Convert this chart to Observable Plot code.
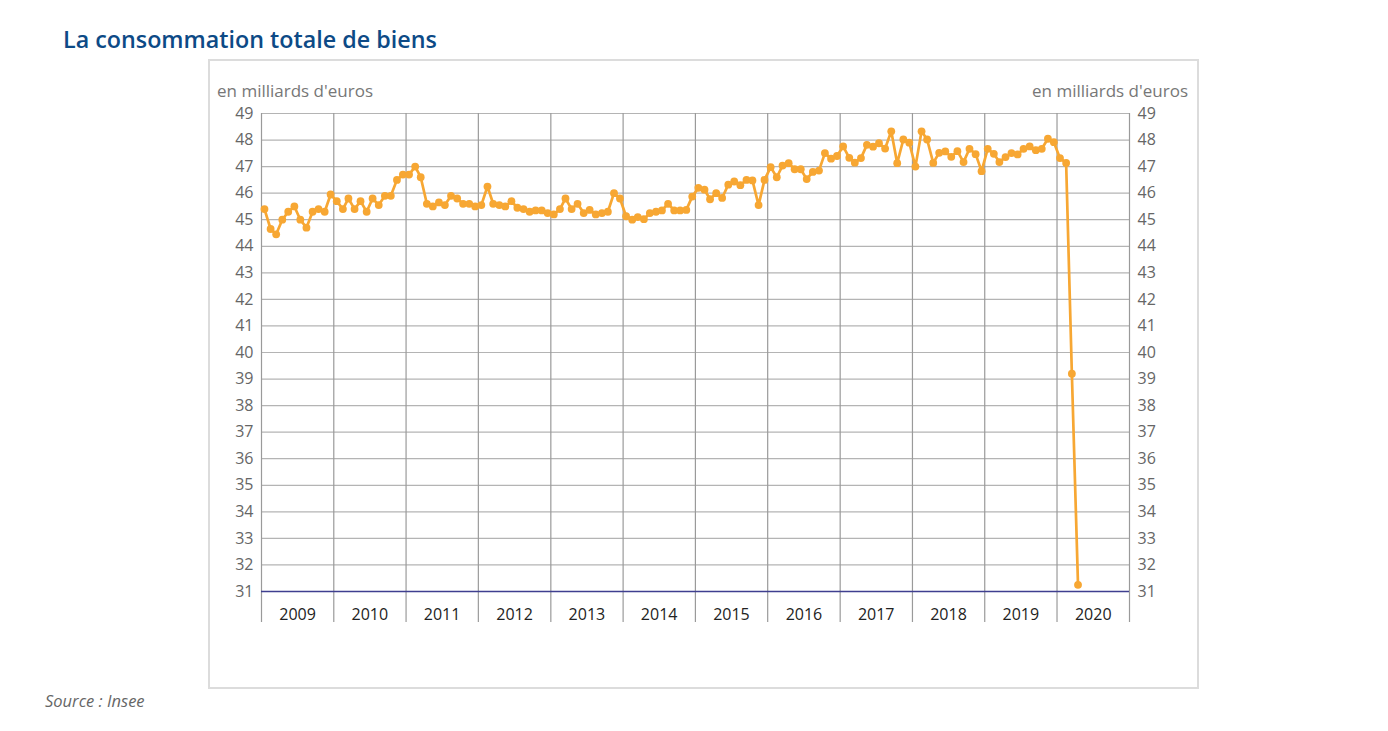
<!DOCTYPE html>
<html>
<head>
<meta charset="utf-8">
<script src="https://cdn.jsdelivr.net/npm/d3@7"></script>
<script src="https://cdn.jsdelivr.net/npm/@observablehq/plot@0.6"></script>
<style>
  html, body { margin: 0; padding: 0; background: #fff; }
  #page { position: relative; width: 1388px; height: 731px; font-family: "Open Sans", sans-serif; overflow: hidden; }
  #title { position: absolute; left: 63px; top: 23px; font-size: 23.3px; font-weight: 600; color: #0d4a86; white-space: nowrap; }
  #box { position: absolute; left: 208px; top: 59px; width: 987px; height: 626px; border: 2px solid #dcdcdc; box-sizing: content-box; }
  .unit { position: absolute; top: 79px; font-size: 17px; color: #777; white-space: nowrap; }
  #unitL { left: 217px; }
  #unitR { right: 200px; }
  #source { position: absolute; left: 45px; top: 689px; font-size: 16.5px; font-style: italic; color: #666; }
  #chart { position: absolute; left: 0; top: 0; }
</style>
</head>
<body>
<div id="page">
  <div id="box"></div>
  <div id="title">La consommation totale de biens</div>
  <div class="unit" id="unitL">en milliards d'euros</div>
  <div class="unit" id="unitR">en milliards d'euros</div>
  <div id="chart"></div>
  <div id="source">Source : Insee</div>
</div>
<script>
const years = [2009, 2010, 2011, 2012, 2013, 2014, 2015, 2016, 2017, 2018, 2019, 2020];
const yTicks = [31, 32, 33, 34, 35, 36, 37, 38, 39, 40, 41, 42, 43, 44, 45, 46, 47, 48, 49];

const v2009 = [45.4, 44.65, 44.45, 45.0, 45.3, 45.5, 45.0, 44.7, 45.3, 45.4, 45.3, 45.95];
const v2010 = [45.7, 45.4, 45.8, 45.4, 45.7, 45.3, 45.8, 45.55, 45.9, 45.9, 46.5, 46.7];
const v2011 = [46.7, 47.0, 46.6, 45.6, 45.5, 45.65, 45.55, 45.9, 45.8, 45.6, 45.6, 45.5];
const v2012 = [45.55, 46.25, 45.6, 45.55, 45.5, 45.7, 45.45, 45.4, 45.3, 45.35, 45.35, 45.25];
const v2013 = [45.2, 45.4, 45.8, 45.4, 45.6, 45.25, 45.37, 45.2, 45.25, 45.3, 46.0, 45.8];
const v2014 = [45.13, 45.0, 45.1, 45.02, 45.25, 45.3, 45.35, 45.6, 45.35, 45.35, 45.37, 45.87];
const v2015 = [46.2, 46.13, 45.77, 46.0, 45.82, 46.32, 46.44, 46.3, 46.5, 46.48, 45.55, 46.5];
const v2016 = [46.98, 46.6, 47.04, 47.13, 46.9, 46.9, 46.53, 46.8, 46.85, 47.51, 47.3, 47.4];
const v2017 = [47.76, 47.33, 47.15, 47.32, 47.82, 47.75, 47.88, 47.68, 48.33, 47.13, 48.02, 47.9];
const v2018 = [47.0, 48.33, 48.02, 47.14, 47.52, 47.57, 47.37, 47.58, 47.17, 47.67, 47.47, 46.83];
const v2019 = [47.67, 47.48, 47.17, 47.36, 47.51, 47.46, 47.67, 47.76, 47.62, 47.67, 48.05, 47.92];
const v2020 = [47.32, 47.14, 39.2, 31.25];

const series = [v2009, v2010, v2011, v2012, v2013, v2014, v2015, v2016, v2017, v2018, v2019, v2020];
const data = [];
series.forEach((arr, i) => arr.forEach((v, m) => data.push({date: new Date(Date.UTC(years[i], m, 16)), value: v})));

const boundaries = years.concat([2021]).map(y => new Date(Date.UTC(y, 0, 1)));
const yearLabels = years.map(y => ({date: new Date(Date.UTC(y, 6, 2)), label: String(y)}));

const chart = Plot.plot({
  width: 1388,
  height: 731,
  marginLeft: 261,
  marginRight: 259,
  marginTop: 113,
  marginBottom: 140,
  style: {fontFamily: "Open Sans, sans-serif", fontSize: "16px", background: "transparent", overflow: "visible"},
  x: {type: "utc", domain: [new Date(Date.UTC(2009, 0, 1)), new Date(Date.UTC(2021, 0, 1))], axis: null},
  y: {domain: [31, 49], axis: null},
  marks: [
    Plot.ruleY(yTicks.filter(d => d > 31), {stroke: "#b4b4b4", strokeWidth: 1.2}),
    Plot.ruleX(boundaries, {stroke: "#9a9a9a", strokeWidth: 1.2, insetBottom: -31}),
    Plot.ruleY([31], {stroke: "#3f3f8f", strokeWidth: 1.5}),
    Plot.axisY(yTicks, {anchor: "left", tickSize: 0, tickPadding: 8, label: null, fill: "#666", fontSize: 16}),
    Plot.axisY(yTicks, {anchor: "right", tickSize: 0, tickPadding: 8, label: null, fill: "#666", fontSize: 16}),
    Plot.text(yearLabels, {x: "date", text: "label", frameAnchor: "bottom", dy: 28, fill: "#222", fontSize: 16}),
    Plot.line(data, {x: "date", y: "value", stroke: "#f7a733", strokeWidth: 2.7}),
    Plot.dot(data, {x: "date", y: "value", fill: "#f7a733", r: 3.9})
  ]
});
document.getElementById("chart").appendChild(chart);
</script>
</body>
</html>
